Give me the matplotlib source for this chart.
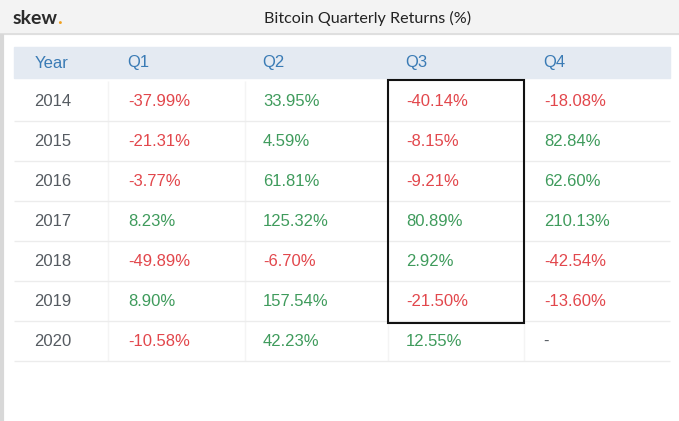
import numpy as np
import matplotlib.pyplot as plt
from matplotlib.patches import Rectangle

years = ['2014', '2015', '2016', '2017', '2018', '2019', '2020']
q1 = [-37.99, -21.31, -3.77, 8.23, -49.89, 8.90, -10.58]
q2 = [33.95, 4.59, 61.81, 125.32, -6.70, 157.54, 42.23]
q3 = [-40.14, -8.15, -9.21, 80.89, 2.92, -21.50, 12.55]
q4 = [-18.08, 82.84, 62.60, 210.13, -42.54, -13.60, None]
headers = ['Year', 'Q1', 'Q2', 'Q3', 'Q4']
title = 'Bitcoin Quarterly Returns (%)'

W, H = 679, 421
red = '#e2474c'
green = '#3f9b5c'
gray = '#555b61'
blue = '#3a7bb5'
fs = 12

fig = plt.figure(figsize=(W / 100, H / 100), dpi=100)
ax = fig.add_axes([0, 0, 1, 1])
ax.set_xlim(0, W)
ax.set_ylim(H, 0)
ax.axis('off')

# top bar
ax.add_patch(Rectangle((0, 0), W, 34, color='#f3f3f3', zorder=0))
ax.hlines(34, 0, W, color='#dcdcdc', lw=1.2)
ax.vlines(1.5, 34, H, color='#d8d8d8', lw=3)
t = ax.text(13, 18, 'skew', fontsize=14, fontweight='bold', family='Lato',
            color='#2b2b2b', va='center', ha='left')
ax.text(57, 18, '.', fontsize=14, fontweight='bold', family='Lato',
        color='#f0a020', va='center', ha='left')
ax.text(368, 18, title, fontsize=11.6, family='Lato', color='#222222',
        va='center', ha='center')

# header band
col_x = [35, 127, 262, 405, 543]
ax.add_patch(Rectangle((14, 47), 656, 31, color='#e4eaf2', zorder=0))
for x, h in zip(col_x, headers):
    ax.text(x, 63, h, fontsize=fs, family='Liberation Sans', color=blue,
            va='center', ha='left')

# rows
row_h = 40
y0 = 81
for c in [108, 245, 388, 524]:
    ax.vlines(c, y0, y0 + row_h * len(years), color='#f4f4f4', lw=1)

for i, yr in enumerate(years):
    yc = y0 + row_h * i + 20
    ax.text(col_x[0] - 1, yc, yr, fontsize=fs, family='Liberation Sans',
            color=gray, va='center', ha='left')
    for j, v in enumerate([q1[i], q2[i], q3[i], q4[i]]):
        if v is None:
            ax.text(col_x[j + 1], yc, '-', fontsize=fs, family='Liberation Sans',
                    color=gray, va='center', ha='left')
            continue
        ax.text(col_x[j + 1] + 1, yc, f'{v:.2f}%', fontsize=fs,
                family='Liberation Sans', color=red if v < 0 else green,
                va='center', ha='left')
    ax.hlines(y0 + row_h * (i + 1), 14, 670, color='#ececec', lw=1)

# highlight box around Q3 2014-2019
ax.add_patch(Rectangle((388, 80), 136, 243, fill=False, ec='#111111',
                       lw=1.5, zorder=5))

fig.savefig('out.png', dpi=100)
